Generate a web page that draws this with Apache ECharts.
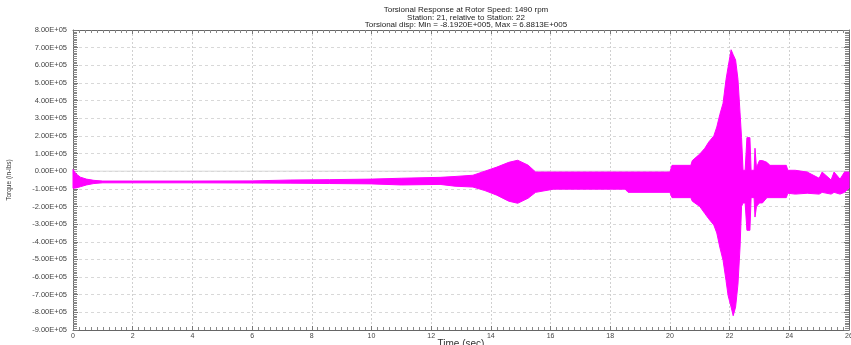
<!DOCTYPE html>
<html>
<head>
<meta charset="utf-8">
<script src="https://cdn.jsdelivr.net/npm/echarts@6/dist/echarts.min.js"></script>
<style>
  html, body { margin: 0; padding: 0; background: #fff; }
  #chart { width: 851px; height: 345px; }
</style>
</head>
<body>
<div id="chart"></div>
<script>
// Torsional response envelope of station 21 relative to station 22 (in-lbs vs sec)
const timeSec = [
  0.00, 0.10, 0.25, 0.45, 0.70, 1.00, 2.00, 4.00, 6.00, 7.30, 8.60, 10.0, 11.0,
  12.3, 12.8, 13.4, 13.8, 14.2, 14.6, 14.9, 15.25, 15.5, 16.1, 18.5, 18.6, 20.0,
  20.07, 20.7, 20.75, 21.0, 21.17, 21.3, 21.47, 21.57, 21.67, 21.78, 21.88, 21.95,
  22.05, 22.12, 22.2, 22.28, 22.35, 22.40, 22.45, 22.52, 22.58, 22.68, 22.72, 22.82,
  22.85, 22.9, 23.0, 23.1, 23.25, 23.35, 23.9, 23.95, 24.2, 24.6, 25.0, 25.1, 25.4,
  25.5, 25.7, 25.85, 26.0
];
// upper envelope of the torque signal
const torqueMax = [
  10000, -15000, -34000, -45000, -52000, -56000, -56000, -56000, -55000, -50000, -48000, -45000, -40000,
  -35000, -30000, -23000, 0, 23000, 50000, 62000, 34000, -5000, -5000, -5000, -5000, -5000,
  33000, 33000, 60000, 97000, 130000, 165000, 200000, 250000, 320000, 385000, 520000, 590000,
  688130, 660000, 630000, 520000, 330000, 190000, 5000, 5000, 190000, 190000, 5000, 5000,
  130000, 20000, 60000, 60000, 50000, 33000, 33000, 5000, 5000, -5000, -40000, -5000, -50000,
  -5000, -45000, -5000, -5000
];
// lower envelope of the torque signal
const torqueMin = [
  -97000, -95000, -88000, -78000, -70000, -66000, -66000, -66000, -67000, -68000, -70000, -72000, -78000,
  -75000, -85000, -90000, -110000, -136000, -170000, -182000, -153000, -120000, -102000, -102000, -120000, -120000,
  -150000, -150000, -170000, -200000, -240000, -270000, -305000, -350000, -430000, -505000, -620000, -705000,
  -770000, -819200, -770000, -640000, -430000, -200000, -180000, -180000, -335000, -335000, -150000, -150000,
  -260000, -200000, -180000, -180000, -150000, -150000, -150000, -125000, -130000, -125000, -130000, -120000, -130000,
  -120000, -130000, -120000, -95000
];

const titleLines = [
  'Torsional Response at Rotor Speed: 1490 rpm',
  'Station: 21, relative to Station: 22',
  'Torsional disp: Min = -8.1920E+005, Max = 6.8813E+005'
];

function sci(v) {
  if (Math.abs(v) < 1e-9) return '0.00E+00';
  const sign = v < 0 ? '-' : '';
  const a = Math.abs(v);
  let e = Math.floor(Math.log10(a));
  let m = a / Math.pow(10, e);
  if (m >= 9.995) { m /= 10; e += 1; }
  return sign + m.toFixed(2) + 'E' + (e < 0 ? '-' : '+') + String(Math.abs(e)).padStart(2, '0');
}

const envelopeData = timeSec.map((t, i) => [t, torqueMax[i], torqueMin[i]]);
const zeroLine = [[0, 0], [26, 0]];

const FONT = 'Liberation Sans';
const MAG = '#ff00ff';

// The band between the upper and lower envelopes is drawn as one filled polygon.
function renderBand(params, api) {
  if (params.dataIndex !== 0) return null;
  const pts = [];
  for (let i = 0; i < timeSec.length; i++) pts.push(api.coord([timeSec[i], torqueMax[i]]));
  for (let i = timeSec.length - 1; i >= 0; i--) pts.push(api.coord([timeSec[i], torqueMin[i]]));
  return {
    type: 'polygon',
    shape: { points: pts },
    style: { fill: MAG, stroke: MAG, lineWidth: 1, lineJoin: 'miter' }
  };
}

const xTicks = {
  axisLine: { show: true, onZero: false, lineStyle: { color: '#666', width: 1 } },
  axisTick: { show: true, inside: true, length: 4, lineStyle: { color: '#777' } },
  minorTick: { show: true, splitNumber: 10, length: 3, lineStyle: { color: '#888' } }
};
const yTicks = {
  axisLine: { show: true, onZero: false, lineStyle: { color: '#666', width: 1 } },
  axisTick: { show: true, inside: true, length: 5, lineStyle: { color: '#777' } },
  minorTick: { show: true, splitNumber: 10, length: 4, lineStyle: { color: '#888' } }
};

const chart = echarts.init(document.getElementById('chart'), null, { renderer: 'canvas' });
chart.setOption({
  backgroundColor: '#fff',
  animation: false,
  title: {
    text: titleLines.join('\n'),
    left: 461,
    textAlign: 'center',
    top: 1,
    textStyle: { fontFamily: FONT, fontSize: 8, lineHeight: 7.6, fontWeight: 'normal', color: '#222' }
  },
  grid: { left: 73, right: 2, top: 30, bottom: 15, containLabel: false, outerBoundsMode: 'none' },
  xAxis: [{
    type: 'value', min: 0, max: 26, interval: 2,
    name: 'Time (sec)', nameLocation: 'middle', nameGap: 9, nameMoveOverlap: false,
    nameTextStyle: { fontFamily: FONT, fontSize: 10, color: '#333', verticalAlign: 'top' },
    axisLabel: { fontFamily: FONT, fontSize: 7, color: '#444', margin: 3 },
    ...xTicks,
    splitLine: { show: true, lineStyle: { color: '#d0d0d0', type: [2, 2] } }
  }, {
    type: 'value', min: 0, max: 26, interval: 2, position: 'top',
    axisLabel: { show: false },
    ...xTicks,
    splitLine: { show: false }
  }],
  yAxis: [{
    type: 'value', min: -900000, max: 800000, interval: 100000,
    name: 'Torque (in-lbs)', nameLocation: 'middle', nameGap: 60, nameRotate: 90, nameMoveOverlap: false,
    nameTextStyle: { fontFamily: FONT, fontSize: 6.5, color: '#333' },
    axisLabel: { fontFamily: FONT, fontSize: 7.5, color: '#444', margin: 6, formatter: sci },
    ...yTicks,
    splitLine: { show: true, lineStyle: { color: '#d8d8d8', type: [3, 3] } }
  }, {
    type: 'value', min: -900000, max: 800000, interval: 100000, position: 'right',
    axisLabel: { show: false },
    ...yTicks,
    splitLine: { show: false }
  }],
  series: [{
    // zero reference line under the signal
    type: 'line', data: zeroLine, silent: true, z: 1,
    symbol: 'none', showSymbol: false,
    lineStyle: { color: '#d8d8d8', width: 1 }
  }, {
    name: 'Torque', type: 'custom', z: 3, silent: true,
    data: envelopeData,
    encode: { x: 0, y: [1, 2] },
    renderItem: renderBand
  }]
});
</script>
</body>
</html>
